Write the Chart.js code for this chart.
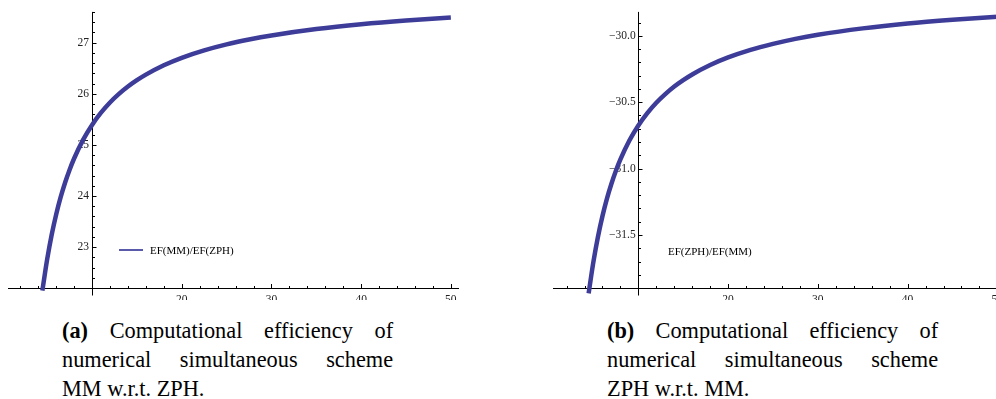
<!DOCTYPE html>
<html>
<head>
<meta charset="utf-8">
<script src="https://cdn.jsdelivr.net/npm/chart.js@4.4.1/dist/chart.umd.min.js"></script>
<style>
  html, body { margin: 0; padding: 0; background: #fff; }
  body { width: 996px; height: 399px; position: relative; overflow: hidden; }
  canvas { position: absolute; top: 0; }
  #chartA { left: 0; }
  #chartB { left: 545px; }
  .legend { position: absolute; font-family: "Liberation Serif", serif; font-size: 11px; color: #000; line-height: 12px; white-space: nowrap; }
  .legend-line { position: absolute; height: 1.5px; background: #5a5aab; }
  .caption {
    position: absolute; top: 316px; width: 356px;
    font-family: "Liberation Serif", serif; font-size: 24px; line-height: 29px; color: #000;
    transform: scaleX(0.93); transform-origin: left top;
  }
  .caption div { text-align: justify; text-align-last: justify; white-space: nowrap; }
  .caption div.last { text-align-last: left; }
</style>
</head>
<body>
<canvas id="chartA" width="470" height="300"></canvas>
<canvas id="chartB" width="470" height="300"></canvas>

<div class="legend-line" style="left:119px; top:249px; width:24px;"></div>
<div class="legend" style="left:150px; top:244px;">EF(MM)/EF(ZPH)</div>
<div class="legend" style="left:668px; top:245px;">EF(ZPH)/EF(MM)</div>

<div class="caption" style="left:62px;">
  <div><b>(a)</b> Computational efficiency of</div>
  <div>numerical simultaneous scheme</div>
  <div class="last">MM w.r.t. ZPH.</div>
</div>
<div class="caption" style="left:607px;">
  <div><b>(b)</b> Computational efficiency of</div>
  <div>numerical simultaneous scheme</div>
  <div class="last">ZPH w.r.t. MM.</div>
</div>

<script>
// values
const xValues = [4.46, 4.75, 5, 5.5, 6, 6.5, 7, 7.5, 8, 9, 10, 11, 12, 13, 14, 15, 16, 18, 20, 22.5, 25, 27.5, 30, 35, 40, 45, 50];
const mmOverZph = [22.15, 22.489, 22.765, 23.242, 23.640, 23.977, 24.265, 24.515, 24.734, 25.098, 25.390, 25.629, 25.828, 25.996, 26.140, 26.265, 26.374, 26.557, 26.703, 26.848, 26.965, 27.060, 27.140, 27.265, 27.359, 27.432, 27.490];
const zphOverMm = [-31.94, -31.807, -31.699, -31.513, -31.358, -31.226, -31.114, -31.016, -30.931, -30.789, -30.675, -30.582, -30.504, -30.439, -30.382, -30.334, -30.291, -30.220, -30.163, -30.106, -30.061, -30.023, -29.992, -29.944, -29.907, -29.879, -29.856];

// tick labels
const xTickLabels = [20, 30, 40, 50];
const yTicksA = [23, 24, 25, 26, 27];
const yTicksB = [-31.5, -31.0, -30.5, -30.0];

const curveColor = '#3d3d99';

// Mathematica style axes: lines crossing at x = 10, ticks pointing inward
const axesPlugin = {
    id: 'mmaAxes',
    beforeDatasetsDraw(chart, args, opts) {
        const { ctx, scales: { x, y } } = chart;
        const x0 = Math.round(x.getPixelForValue(opts.crossX)) + 0.5;
        const y0 = Math.round(y.bottom) + 0.5;
        ctx.save();
        ctx.strokeStyle = '#000';
        ctx.lineWidth = 1;
        ctx.beginPath();
        ctx.moveTo(x.left, y0);
        ctx.lineTo(x.right, y0);
        ctx.moveTo(x0, y.top);
        ctx.lineTo(x0, y0 + 7);
        ctx.stroke();

        ctx.beginPath();
        for (let v = 2; v <= x.max; v += 2) {
            const px = Math.round(x.getPixelForValue(v)) + 0.5;
            const len = v % 10 === 0 ? 4.5 : 2.5;
            ctx.moveTo(px, y0);
            ctx.lineTo(px, y0 - len);
        }
        const start = Math.ceil(y.min / opts.yStep - 1e-6);
        for (let i = start; i * opts.yStep <= y.max + 1e-9; i++) {
            const v = i * opts.yStep;
            const py = Math.round(y.getPixelForValue(v)) + 0.5;
            const isMajor = Math.abs(v / opts.yMajor - Math.round(v / opts.yMajor)) < 1e-6;
            ctx.moveTo(x0, py);
            ctx.lineTo(x0 + (isMajor ? 4 : 2.5), py);
        }
        ctx.stroke();
        ctx.restore();
    }
};

function makeChart(id, values, label, xMin, xMax, yMin, yMax, yTicks, yFormat, yStep, yMajor, labelX) {
    const ctx = document.getElementById(id).getContext('2d');
    return new Chart(ctx, {
        type: 'line',
        data: {
            datasets: [{
                label: label,
                data: xValues.map((xv, i) => ({ x: xv, y: values[i] })),
                borderColor: curveColor,
                borderWidth: 4.5,
                pointRadius: 0,
                fill: false,
                cubicInterpolationMode: 'monotone',
                clip: 6
            }]
        },
        options: {
            responsive: false,
            animation: false,
            events: [],
            layout: { padding: { left: 8, right: 11, top: 0, bottom: 0 } },
            plugins: {
                legend: { display: false },
                tooltip: { enabled: false },
                mmaAxes: { crossX: 10, yStep: yStep, yMajor: yMajor }
            },
            scales: {
                x: {
                    type: 'linear',
                    min: xMin,
                    max: xMax,
                    position: { y: yMin },
                    grid: { display: false, drawTicks: false },
                    border: { display: false },
                    afterBuildTicks: s => { s.ticks = xTickLabels.map(v => ({ value: v })); },
                    ticks: {
                        padding: 5,
                        maxRotation: 0,
                        autoSkip: false,
                        color: '#222',
                        font: { family: 'Liberation Serif', size: 11.5 }
                    }
                },
                y: {
                    type: 'linear',
                    min: yMin,
                    max: yMax,
                    // labels sit a few pixels left of the axis line drawn at x = 10
                    position: { x: labelX },
                    grid: { display: false, drawTicks: false },
                    border: { display: false },
                    afterBuildTicks: s => { s.ticks = yTicks.map(v => ({ value: v })); },
                    ticks: {
                        padding: 5,
                        autoSkip: false,
                        color: '#222',
                        font: { family: 'Liberation Serif', size: 11.5 },
                        callback: v => yFormat(v)
                    }
                }
            }
        },
        plugins: [axesPlugin]
    });
}

makeChart('chartA', mmOverZph, 'EF(MM)/EF(ZPH)', 0.63, 50.91, 22.2, 27.6,
    yTicksA, v => String(v), 0.2, 1, 9.65);
makeChart('chartB', zphOverMm, 'EF(ZPH)/EF(MM)', 0.49, 50.74, -31.9, -29.82,
    yTicksB, v => '\u2212' + Math.abs(v).toFixed(1), 0.1, 0.5, 9.7);
</script>
</body>
</html>
